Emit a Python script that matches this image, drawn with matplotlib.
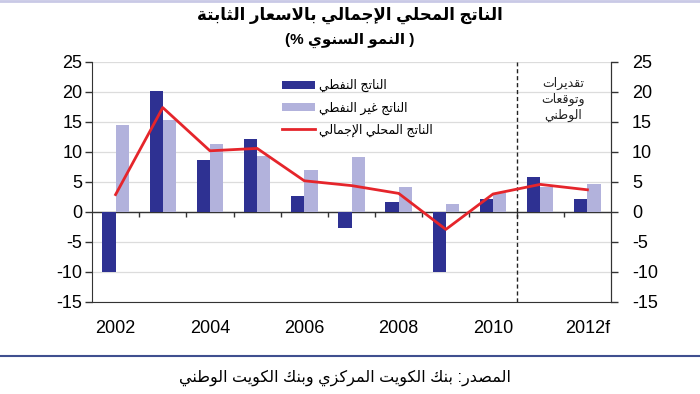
import matplotlib
matplotlib.use('Agg')
import matplotlib.pyplot as plt
import numpy as np
from matplotlib.lines import Line2D

# Data
years = [2002, 2003, 2004, 2005, 2006, 2007, 2008, 2009, 2010, 2011, 2012]
year_labels = ['2002', '', '2004', '', '2006', '', '2008', '', '2010', '', '2012f']
oil = [-10.0, 20.1, 8.7, 12.1, 2.7, -2.7, 1.6, -10.0, 2.2, 5.9, 2.2]
non_oil = [14.5, 15.3, 11.3, 9.4, 7.0, 9.2, 4.1, 1.4, 3.2, 4.1, 4.6]
total = [2.9, 17.4, 10.2, 10.6, 5.2, 4.4, 3.1, -2.9, 3.0, 4.6, 3.7]
forecast_from = 2011

title = 'الناتج المحلي الإجمالي بالاسعار الثابتة'
subtitle = '( النمو السنوي %)'
legend_labels = ['الناتج النفطي', 'الناتج غير النفطي', 'الناتج المحلي الإجمالي']
note = ['تقديرات', 'وتوقعات', 'الوطني']
source = 'المصدر: بنك الكويت المركزي وبنك الكويت الوطني'

# matplotlib has no arabic shaping, so map letters to presentation forms
AR_BASE = {'ا': 0xFE8D, 'إ': 0xFE87, 'أ': 0xFE83, 'ب': 0xFE8F, 'ة': 0xFE93,
           'ت': 0xFE95, 'ث': 0xFE99, 'ج': 0xFE9D, 'ح': 0xFEA1, 'خ': 0xFEA5,
           'د': 0xFEA9, 'ذ': 0xFEAB, 'ر': 0xFEAD, 'ز': 0xFEAF, 'س': 0xFEB1,
           'ش': 0xFEB5, 'ص': 0xFEB9, 'ض': 0xFEBD, 'ط': 0xFEC1, 'ظ': 0xFEC5,
           'ع': 0xFEC9, 'غ': 0xFECD, 'ف': 0xFED1, 'ق': 0xFED5, 'ك': 0xFED9,
           'ل': 0xFEDD, 'م': 0xFEE1, 'ن': 0xFEE5, 'ه': 0xFEE9, 'و': 0xFEED,
           'ى': 0xFEEF, 'ي': 0xFEF1}
RIGHT_ONLY = set('اإأدذرزوىة')
LAM_ALEF = {'ا': 0xFEFB, 'إ': 0xFEF9, 'أ': 0xFEF7}
MIRROR = {'(': ')', ')': '('}


def shape(text):
    items = []
    i = 0
    while i < len(text):
        c = text[i]
        if c == 'ل' and i + 1 < len(text) and text[i + 1] in LAM_ALEF:
            items.append(('LA', text[i + 1]))
            i += 2
        else:
            items.append((c, None))
            i += 1

    def j_prev(it):
        return it[0] == 'LA' or it[0] in AR_BASE

    def j_next(it):
        return it[0] in AR_BASE and it[0] not in RIGHT_ONLY

    out = []
    for k, it in enumerate(items):
        p = k > 0 and j_next(items[k - 1]) and j_prev(it)
        n = k + 1 < len(items) and j_next(it) and j_prev(items[k + 1])
        if it[0] == 'LA':
            out.append(chr(LAM_ALEF[it[1]] + (1 if p else 0)))
        elif it[0] in AR_BASE:
            off = 3 if (p and n) else 2 if n else 1 if p else 0
            out.append(chr(AR_BASE[it[0]] + off))
        else:
            out.append(MIRROR.get(it[0], it[0]))
    return ''.join(out[::-1])


plt.rcParams['font.family'] = ['Liberation Sans', 'DejaVu Sans']
plt.rcParams['axes.unicode_minus'] = False

dark = '#2E3192'
light = '#B2B2DC'
red = '#E5252B'
axis_col = '#333333'

fig = plt.figure(figsize=(7, 3.94), dpi=100)
ax = fig.add_axes([92 / 700, 92 / 394, 519 / 700, 240 / 394])

x = np.arange(len(years))
w = 0.28
b1 = ax.bar(x - w / 2, oil, w, color=dark, zorder=3)
b2 = ax.bar(x + w / 2, non_oil, w, color=light, zorder=3)
l1, = ax.plot(x, total, color=red, lw=2, zorder=4)

ax.set_xlim(-0.5, len(years) - 0.5)
ax.set_ylim(-15, 25)
ax.set_yticks(np.arange(-15, 26, 5))
ax.yaxis.grid(True, color='#dcdcdc', lw=0.9, zorder=0)
ax.axhline(0, color=axis_col, lw=1, zorder=2)
# small ticks on the zero line between years
ax.vlines(x[:-1] + 0.5, -0.9, 0, color=axis_col, lw=1, zorder=2)

fx = years.index(forecast_from) - 0.5
ax.axvline(fx, color='#222222', lw=1, ls=(0, (3, 2)), zorder=2)
ax.text(fx + 0.98, 22.6, '\n'.join(shape(t) for t in note), ha='center', va='top',
        fontsize=9, linespacing=1.33, color='#222222')

ax.set_xticks(x)
ax.set_xticklabels(year_labels, fontsize=13)
ax.tick_params(axis='x', length=0, pad=13)
ax.tick_params(axis='y', direction='out', length=5, width=1, labelsize=13, pad=2,
               color=axis_col)

sec = ax.secondary_yaxis('right')
sec.set_yticks(np.arange(-15, 26, 5))
sec.tick_params(direction='out', length=5, width=1, labelsize=13, pad=10, color=axis_col)
sec.spines['right'].set_color(axis_col)

ax.spines['top'].set_visible(False)
for s in ['left', 'right', 'bottom']:
    ax.spines[s].set_color(axis_col)

ax.legend([b1, b2, l1], [shape(t) for t in legend_labels], loc='upper left',
          bbox_to_anchor=(0.345, 0.975), frameon=False, fontsize=9,
          handlelength=2.6, handleheight=0.6, labelspacing=0.72, handletextpad=0.35)

fig.text(0.5, 0.962, shape(title), ha='center', va='center', fontsize=12, fontweight='bold')
fig.text(0.5, 0.898, shape(subtitle), ha='center', va='center',
         fontsize=11, fontweight='bold')
fig.add_artist(Line2D([0, 1], [0.997, 0.997], color='#c9c9e6', lw=2))
fig.add_artist(Line2D([0, 1], [1 - 356 / 394] * 2, color='#3f4f8f', lw=1.5))
fig.text(0.493, 1 - 378 / 394, shape(source), ha='center', va='center', fontsize=11.5)

fig.savefig('out.png', dpi=100)
